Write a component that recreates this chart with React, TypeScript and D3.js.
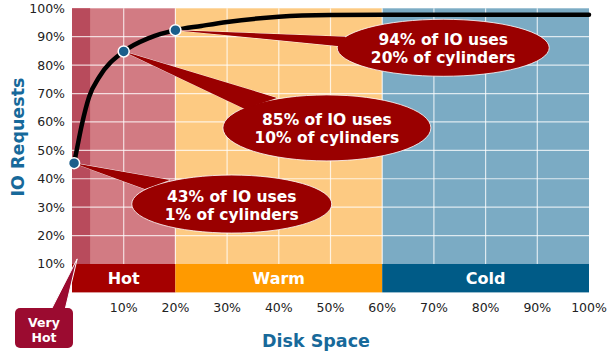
import React from "react";
import * as d3 from "d3";

// axis ticks (percent)
const xTicks = [10, 20, 30, 40, 50, 60, 70, 80, 90, 100];
const yTicks = [10, 20, 30, 40, 50, 60, 70, 80, 90, 100];

// temperature zones along disk space
const zoneNames = ["Hot", "Warm", "Cold"];
const zoneStarts = [0, 20, 60];
const zoneEnds = [20, 60, 100];
const veryHotEnd = 3.5;

// cumulative IO curve
const curveX = [0.4, 0.9, 1.9, 3.3, 5.3, 10, 15, 20, 25, 30, 40, 50, 60, 100];
const curveY = [45.5, 50, 59, 68.8, 75.9, 84.8, 89.6, 92.3, 93.8, 95.2, 97, 97.6, 97.7, 97.7];

// highlighted points and their callouts
const pointX = [0.4, 10, 20];
const pointY = [45.5, 84.8, 92.3];
const calloutLine1 = ["43% of IO uses", "85% of IO uses", "94% of IO uses"];
const calloutLine2 = ["1% of cylinders", "10% of cylinders", "20% of cylinders"];
const calloutCx = [30.9, 49.3, 71.8];
const calloutCy = [31.1, 57.9, 86.1];

const W = 616;
const H = 354;
const FONT = "'DejaVu Sans', Verdana, sans-serif";

const calloutShape = [
    { rx: 100, ry: 29, base: [[-62, -24], [-87, -15]] },
    { rx: 104, ry: 33, base: [[-50, -30], [-82, -19]] },
    { rx: 106, ry: 28.5, base: [[-98, -11], [-98, -1]] },
];

export default function App() {
    const x = d3.scaleLinear().domain([0, 100]).range([72, 589]);
    const y = d3.scaleLinear().domain([0, 100]).range([292.4, 8.3]);

    const plotTop = y(100);
    const plotBottom = y(10);

    const zoneBg = ["#d27b83", "#fdca82", "#7babc4"];
    const zoneBar = ["#a50000", "#ff9a00", "#005b87"];

    const line = d3.line<number>()
        .x((_, i) => x(curveX[i]))
        .y((d) => y(d))
        .curve(d3.curveMonotoneX);

    const callouts = calloutCx.map((cx, i) => {
        const px = x(cx);
        const py = y(calloutCy[i]);
        const s = calloutShape[i];
        const tail = [
            [x(pointX[i]), y(pointY[i])],
            [px + s.base[0][0], py + s.base[0][1]],
            [px + s.base[1][0], py + s.base[1][1]],
        ].map((p) => p.join(",")).join(" ");
        return { px, py, s, tail, i };
    });

    // very hot tag box
    const tagX = 15, tagY = 308, tagW = 58, tagH = 40;
    const tagTail = [
        [x(1), y(11.8)],
        [tagX + 36, tagY + 2],
        [tagX + 50, tagY + 2],
    ].map((p) => p.join(",")).join(" ");

    return (
        <svg width={W} height={H} style={{ position: "absolute", left: 0, top: 0, background: "#fff" }} fontFamily={FONT}>
            {/* zone backgrounds */}
            {zoneNames.map((name, i) => (
                <rect key={name} x={x(zoneStarts[i])} y={plotTop} width={x(zoneEnds[i]) - x(zoneStarts[i])}
                    height={plotBottom - plotTop} fill={zoneBg[i]} />
            ))}
            <rect x={x(0)} y={plotTop} width={x(veryHotEnd) - x(0)} height={plotBottom - plotTop} fill="#b84b5c" />

            {/* grid */}
            {xTicks.filter((t) => t < 100).map((t) => (
                <line key={"gx" + t} x1={x(t)} x2={x(t)} y1={plotTop} y2={plotBottom} stroke="#fff" strokeOpacity={0.75} strokeWidth={1.2} />
            ))}
            {yTicks.filter((t) => t > 10 && t < 100).map((t) => (
                <line key={"gy" + t} x1={x(0)} x2={x(100)} y1={y(t)} y2={y(t)} stroke="#fff" strokeOpacity={0.75} strokeWidth={1.2} />
            ))}

            {/* zone bar */}
            {zoneNames.map((name, i) => (
                <g key={"bar" + name}>
                    <rect x={x(zoneStarts[i])} y={y(10)} width={x(zoneEnds[i]) - x(zoneStarts[i])} height={y(0) - y(10)} fill={zoneBar[i]} />
                    <text x={(x(zoneStarts[i]) + x(zoneEnds[i])) / 2} y={(y(0) + y(10)) / 2} dy="0.36em" textAnchor="middle"
                        fill="#fff" fontWeight="bold" fontSize={16}>{name}</text>
                </g>
            ))}

            {/* y tick labels */}
            {yTicks.map((t) => (
                <text key={"yt" + t} x={65} y={y(t)} dy="0.36em" textAnchor="end" fontSize={12.5} fill="#222">{t}%</text>
            ))}
            {/* x tick labels */}
            {xTicks.map((t) => (
                <text key={"xt" + t} x={x(t)} y={307} dy="0.36em" textAnchor="middle" fontSize={12.5} fill="#222">{t}%</text>
            ))}

            {/* axis titles */}
            <text transform="translate(24,137) rotate(-90)" textAnchor="middle" fontWeight="bold" fontSize={17.5} fill="#17699a">IO Requests</text>
            <text x={316} y={347} textAnchor="middle" fontWeight="bold" fontSize={17.5} fill="#17699a">Disk Space</text>

            {/* curve */}
            <path d={line(curveY) || ""} fill="none" stroke="#000" strokeWidth={4.5} strokeLinecap="round" />

            {/* callouts */}
            {callouts.map((c) => (
                <g key={"co" + c.i}>
                    <polygon points={c.tail} fill="#9a0000" stroke="#fff" strokeWidth={1} strokeOpacity={0.8} />
                    <ellipse cx={c.px} cy={c.py} rx={c.s.rx} ry={c.s.ry} fill="#9a0000" stroke="#fff" strokeWidth={1} strokeOpacity={0.8} />
                    <polygon points={c.tail} fill="#9a0000" />
                    <text x={c.px} y={c.py - 8} dy="0.36em" textAnchor="middle" fill="#fff" fontWeight="bold" fontSize={15.5}>{calloutLine1[c.i]}</text>
                    <text x={c.px} y={c.py + 10} dy="0.36em" textAnchor="middle" fill="#fff" fontWeight="bold" fontSize={15.5}>{calloutLine2[c.i]}</text>
                </g>
            ))}

            {/* highlighted points */}
            {pointX.map((px, i) => (
                <circle key={"pt" + i} cx={x(px)} cy={y(pointY[i])} r={5.5} fill="#1b5e8b" stroke="#fff" strokeWidth={1.5} />
            ))}

            {/* very hot tag */}
            <polygon points={tagTail} fill="#9b0b30" stroke="#fff" strokeWidth={1} />
            <rect x={tagX} y={tagY} width={tagW} height={tagH} rx={5} fill="#9b0b30" />
            <text x={tagX + tagW / 2} y={tagY + 14} dy="0.36em" textAnchor="middle" fill="#fff" fontWeight="bold" fontSize={12.5}>Very</text>
            <text x={tagX + tagW / 2} y={tagY + 29} dy="0.36em" textAnchor="middle" fill="#fff" fontWeight="bold" fontSize={12.5}>Hot</text>
        </svg>
    );
}
